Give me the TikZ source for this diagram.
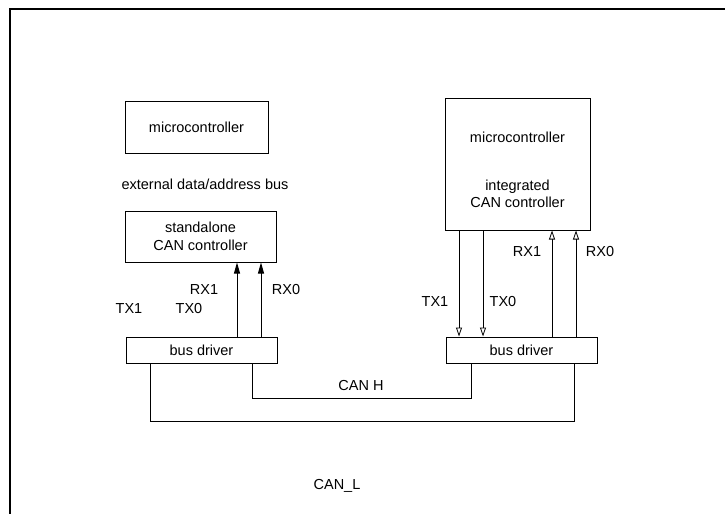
\documentclass[tikz,border=0pt]{standalone}
\usepackage{fontspec}
\setmainfont{Liberation Sans}
\usetikzlibrary{arrows.meta}

\tikzset{
	box/.style = {draw, line width = 1pt, inner sep = 0pt, align = center},
	lbl/.style = {inner sep = 1pt},
	rxin/.style = {line width = 1pt, -{Triangle[length = 11pt, width = 6pt]}},
	txout/.style = {line width = 0.8pt, -{Triangle[open, length = 9pt, width = 6pt]}}
}

\begin{document}
\begin{tikzpicture}[x = 1pt, y = -1pt, font = \fontsize{14.5}{17.5}\selectfont]
\useasboundingbox (0,0) rectangle (725, 514);

% frame
\draw[line width = 2pt] (725, 9) -- (10, 9) -- (10, 514);

% left node: separate controller
\node[box, minimum width = 143, minimum height = 52] (lmcu) at (196.5, 127.5) {microcontroller};
\node[lbl] (xbus) at (205, 184) {external data/address bus};
\node[box, minimum width = 151, minimum height = 51] (sctl) at (200.5, 236.5) {standalone\\CAN controller};
\node[box, minimum width = 151, minimum height = 26] (ldrv) at (201.5, 350) {bus driver};

\foreach \x in {237, 261}
	\draw[rxin] (ldrv.north -| \x,0) -- (sctl.south -| \x,0);

\node[lbl] (lrx1) at (204, 290) {RX1};
\node[lbl] (lrx0) at (286, 290) {RX0};
\node[lbl] (ltx1) at (129, 309) {TX1};
\node[lbl] (ltx0) at (189, 309) {TX0};

% right node: integrated controller
\node[box, minimum width = 145, minimum height = 132] (rmcu) at (517.5, 164) {};
\node[lbl] (rmtxt) at (517.5, 137) {microcontroller};
\node[lbl, align = center] (rctxt) at (517.5, 194) {integrated\\CAN controller};
\node[box, minimum width = 151, minimum height = 26] (rdrv) at (521.5, 350) {bus driver};

\foreach \x in {459, 483}
	\draw[txout] (rmcu.south -| \x,0) -- (rdrv.north -| \x,0);
\foreach \x in {552, 576}
	\draw[txout] (rdrv.north -| \x,0) -- (rmcu.south -| \x,0);

\node[lbl] (rrx1) at (527, 252) {RX1};
\node[lbl] (rrx0) at (600, 252) {RX0};
\node[lbl] (rtx1) at (435, 302) {TX1};
\node[lbl] (rtx0) at (503, 302) {TX0};

% bus lines
\draw[line width = 1pt] (ldrv.south -| 252,0) |- (471, 398) -- (rdrv.south -| 471,0);
\draw[line width = 1pt] (ldrv.south -| 150,0) |- (574, 421) -- (rdrv.south -| 574,0);

\node[lbl] (canh) at (361, 386) {CAN H};
\node[lbl] (canl) at (337, 486) {CAN\_L};

\end{tikzpicture}
\end{document}
